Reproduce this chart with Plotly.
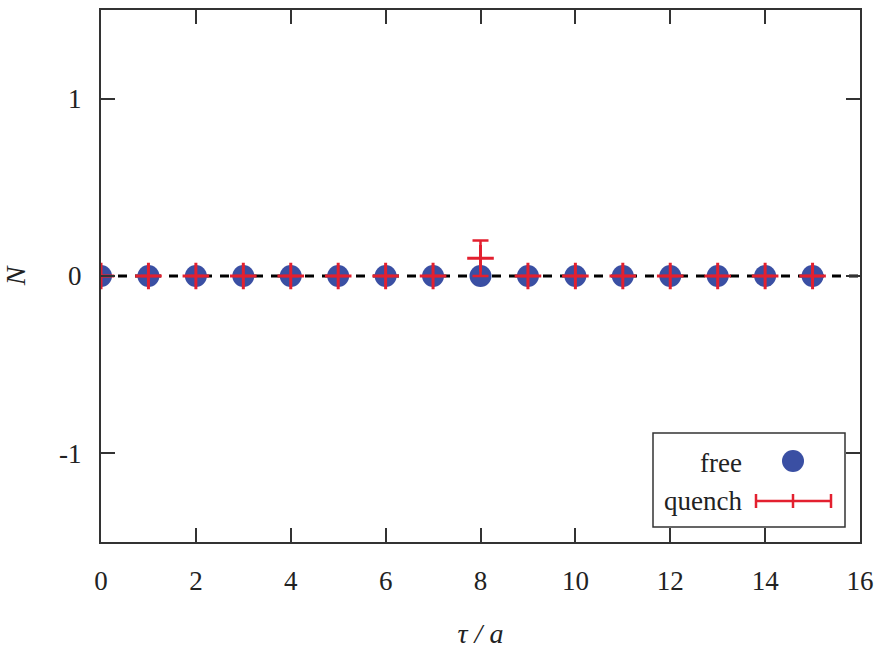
import plotly.graph_objects as go

tau = list(range(16))
free_vals = [0.0] * 16
quench_vals = [0, 0, 0, 0, 0, 0, 0, 0, 0.1, 0, 0, 0, 0, 0, 0, 0]
quench_err = [0, 0, 0, 0, 0, 0, 0, 0, 0.1, 0, 0, 0, 0, 0, 0, 0]
x_ticks = [0, 2, 4, 6, 8, 10, 12, 14, 16]
y_ticks = [-1, 0, 1]
y_ticktext = ["-1", "0", "1"]

BLUE = "#3a4fa3"
RED = "#e3202f"
FONT = "Liberation Serif, Times New Roman, serif"

fig = go.Figure()
fig.add_trace(go.Scatter(x=[0, 16], y=[0, 0], mode="lines",
                         line=dict(color="black", width=3, dash="9px,8px"),
                         showlegend=False, hoverinfo="skip"))
fig.add_trace(go.Scatter(x=tau, y=free_vals, mode="markers", name="free",
                         marker=dict(symbol="circle", size=22, color=BLUE),
                         showlegend=False))
fig.add_trace(go.Scatter(x=tau, y=quench_vals, mode="markers", name="quench",
                         marker=dict(symbol="cross-thin", size=19,
                                     line=dict(color=RED, width=3), color=RED),
                         error_y=dict(type="data", array=quench_err, visible=True,
                                      color=RED, thickness=2.5, width=8),
                         showlegend=False))

axis_common = dict(showline=True, linecolor="#333333", linewidth=2,
                   mirror="ticks", ticks="inside", ticklen=14, tickwidth=2,
                   tickcolor="#333333", showgrid=False, zeroline=False,
                   automargin=False,
                   tickfont=dict(family=FONT, size=27, color="#222222"))

fig.update_xaxes(range=[0, 16], tickvals=x_ticks, ticklabelstandoff=14,
                 title=dict(text="<i>τ / a</i>", font=dict(family=FONT, size=28, color="#222222"),
                            standoff=28),
                 **axis_common)
fig.update_yaxes(range=[-1.5, 1.5], tickvals=y_ticks, ticktext=y_ticktext,
                 ticklabelstandoff=12,
                 title=dict(text="<i>N</i>", font=dict(family=FONT, size=28, color="#222222"),
                            standoff=30),
                 **axis_common)

# custom legend (box, labels, samples)
def px(xp):
    return (xp - 101) / 759.0
def py(yp):
    return (542 - yp) / 532.0

fig.add_shape(type="rect", xref="paper", yref="paper", x0=px(653), x1=px(845),
              y0=py(527), y1=py(433),
              line=dict(color="#333333", width=1.5), fillcolor="white", layer="above")
fig.add_annotation(xref="paper", yref="paper", x=px(744), y=py(463), text="free",
                   xanchor="right", yanchor="middle", showarrow=False,
                   font=dict(family=FONT, size=27, color="#222222"))
fig.add_annotation(xref="paper", yref="paper", x=px(744), y=py(501), text="quench",
                   xanchor="right", yanchor="middle", showarrow=False,
                   font=dict(family=FONT, size=27, color="#222222"))
fig.add_shape(type="circle", xref="paper", yref="paper",
              x0=px(782), x1=px(804), y0=py(472), y1=py(450),
              fillcolor=BLUE, line=dict(width=0), layer="above")
fig.add_shape(type="line", xref="paper", yref="paper", x0=px(756), x1=px(831),
              y0=py(501), y1=py(501), line=dict(color=RED, width=2.5), layer="above")
for xx in (756, 793, 831):
    fig.add_shape(type="line", xref="paper", yref="paper", x0=px(xx), x1=px(xx),
                  y0=py(494), y1=py(508), line=dict(color=RED, width=2.5), layer="above")

fig.update_layout(width=883, height=649, margin=dict(l=101, r=23, t=10, b=107),
                  plot_bgcolor="white", paper_bgcolor="white",
                  font=dict(family=FONT))
fig.write_html("out.html")
